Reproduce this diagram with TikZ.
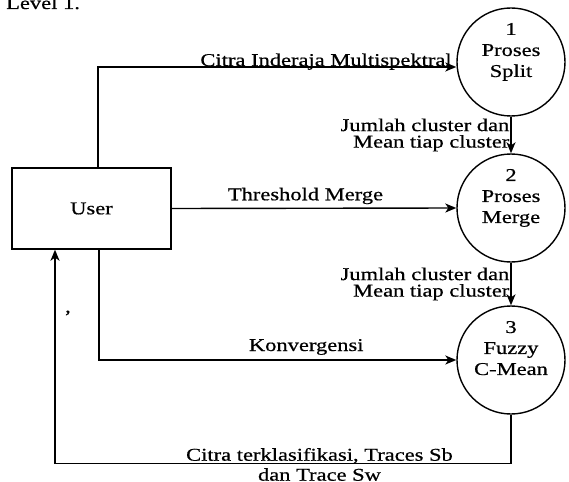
\documentclass[tikz,border=0pt]{standalone}
\usepackage{fontspec}
\setmainfont{Liberation Serif}[FakeStretch=1.25, FakeBold=0.6]
\usetikzlibrary{positioning,arrows.meta}
\tikzstyle{process}=[circle, draw=black, line width=1.4pt, minimum size=108pt, inner sep=0pt,
        align=center, font=\fontsize{18}{21}\selectfont]
\tikzstyle{entity}=[rectangle, draw=black, line width=1.4pt, minimum width=159pt, minimum height=81pt,
        font=\fontsize{18}{21}\selectfont]
\tikzstyle{myarrow}=[-{Stealth[length=11pt, width=9pt, inset=3pt]}, line width=1.4pt]
\tikzstyle{flowlabel}=[font=\fontsize{18}{16.5}\selectfont, inner sep=1pt, align=center]

\begin{document}
\begin{tikzpicture}[x=1pt, y=-1pt]
    \useasboundingbox (0,0) rectangle (569,481);

    \node (Level) [flowlabel, anchor=base west] at (5,9) {Level 1.};

    \node (User) [entity] at (91.5,208.5) {User};

    \node (Split) [process] at (511,62) {1\\Proses\\Split\\[3pt]};
    \node (Merge) [process] at (511,208) {2\\Proses\\Merge\\[3pt]};
    \node (FCM) [process] at (511,360) {3\\Fuzzy\\C-Mean\\[3pt]};

    \node (Mark) [flowlabel] at (68,313) {,};

    \draw[myarrow] ([xshift=6.5pt]User.north) |- ([yshift=-5pt]Split.west)
        node[flowlabel, pos=1, anchor=base east, xshift=-3pt, yshift=1pt] {Citra Inderaja Multispektral};
    \draw[myarrow] (User.east) -- (Merge.west)
        node[flowlabel, pos=0.47, anchor=base, yshift=8pt] {Threshold Merge};
    \draw[myarrow] ([xshift=7.5pt]User.south) |- (FCM.west)
        node[flowlabel, pos=0.79, anchor=base, yshift=9pt] {Konvergensi};

    \draw[myarrow] (Split.south) -- (Merge.north)
        node[flowlabel, midway, left, align=right] {Jumlah cluster dan\\Mean tiap cluster};
    \draw[myarrow] (Merge.south) -- (FCM.north)
        node[flowlabel, midway, left, align=right] {Jumlah cluster dan\\Mean tiap cluster};

    \draw[myarrow] (FCM.south) -- ++(0,49) -| ([xshift=-36.5pt]User.south)
        node[flowlabel, pos=0.21, anchor=base, yshift=-17pt, font=\fontsize{18}{20}\selectfont]
        {Citra terklasifikasi, Traces Sb\\dan Trace Sw};
\end{tikzpicture}
\end{document}
